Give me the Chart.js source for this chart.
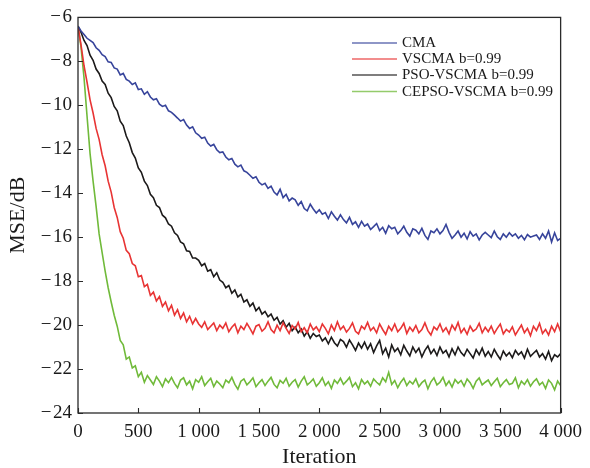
<!DOCTYPE html>
<html>
<head>
<meta charset="utf-8">
<script src="https://cdn.jsdelivr.net/npm/chart.js@4/dist/chart.umd.min.js"></script>
<style>
html,body{margin:0;padding:0;background:#fff;}
#wrap{width:590px;height:468px;position:relative;}
</style>
</head>
<body>
<div id="wrap"><canvas id="c" width="590" height="468"></canvas></div>
<script>
// Iteration grid (every 25 iterations, 0..4000)
const ITER_STEP = 25;
const ITER_MAX = 4000;
const iterations = Array.from({length: ITER_MAX / ITER_STEP + 1}, (_, i) => i * ITER_STEP);

const seriesNames = ["CMA", "VSCMA b=0.99", "PSO-VSCMA b=0.99", "CEPSO-VSCMA b=0.99"];
const xTicks = [0, 500, 1000, 1500, 2000, 2500, 3000, 3500, 4000];
const yTicks = [-24, -22, -20, -18, -16, -14, -12, -10, -8, -6];

// MSE/dB values, one per 25 iterations (8 per row = 200 iterations)
const cma = [
-6.40,-6.62,-6.78,-6.95,-7.05,-7.15,-7.38,-7.50,
-7.70,-7.78,-8.02,-8.05,-8.30,-8.35,-8.62,-8.55,
-8.82,-8.90,-9.05,-8.98,-9.28,-9.25,-9.50,-9.38,
-9.62,-9.75,-9.70,-9.95,-10.05,-10.00,-10.25,-10.32,
-10.45,-10.58,-10.72,-10.65,-10.90,-11.05,-10.98,-11.25,
-11.35,-11.50,-11.45,-11.72,-11.85,-11.78,-12.02,-12.15,
-12.12,-12.35,-12.48,-12.42,-12.68,-12.80,-12.72,-12.98,
-13.05,-13.18,-13.32,-13.25,-13.50,-13.62,-13.55,-13.78,
-13.68,-13.95,-14.08,-13.82,-14.20,-14.05,-14.35,-14.22,
-14.30,-14.55,-14.38,-14.70,-14.80,-14.50,-14.72,-14.90,
-14.75,-14.95,-14.88,-15.15,-14.85,-15.05,-15.22,-14.98,
-15.20,-15.35,-15.10,-15.42,-15.30,-15.55,-15.28,-15.50,
-15.40,-15.65,-15.52,-15.38,-15.70,-15.55,-15.82,-15.48,
-15.62,-15.55,-15.85,-15.70,-15.50,-15.78,-15.95,-15.62,
-15.68,-15.85,-15.60,-15.92,-16.10,-15.72,-15.80,-15.62,
-15.85,-15.70,-15.42,-15.78,-16.05,-15.90,-15.72,-16.00,
-15.82,-16.08,-15.75,-15.95,-15.85,-16.12,-15.90,-15.78,
-15.90,-16.02,-15.72,-15.98,-16.10,-15.85,-16.00,-15.80,
-15.95,-15.85,-16.05,-15.92,-16.12,-15.88,-16.00,-15.95,
-15.90,-16.10,-15.85,-16.05,-15.72,-16.22,-15.80,-16.15,
-16.05
];
const vscma = [
-6.40,-7.25,-8.20,-8.95,-9.75,-10.35,-11.05,-11.55,
-12.25,-12.75,-13.45,-13.95,-14.65,-15.10,-15.75,-16.05,
-16.60,-16.75,-17.20,-17.30,-17.80,-17.75,-18.25,-18.15,
-18.65,-18.50,-18.90,-18.70,-19.15,-18.95,-19.35,-19.10,
-19.55,-19.30,-19.70,-19.45,-19.85,-19.60,-19.95,-19.70,
-19.95,-20.10,-19.85,-20.20,-20.05,-19.90,-20.25,-20.00,
-20.15,-19.90,-20.30,-20.10,-19.95,-20.35,-20.05,-20.20,
-19.92,-20.15,-20.40,-20.05,-19.98,-20.28,-20.15,-19.85,
-20.20,-20.35,-20.00,-20.25,-19.90,-20.15,-20.38,-20.02,
-20.18,-19.88,-20.30,-20.12,-20.35,-19.95,-20.22,-20.08,
-20.30,-19.95,-20.15,-20.40,-20.00,-20.25,-19.85,-20.20,
-20.05,-20.32,-20.15,-19.90,-20.28,-20.40,-20.05,-20.18,
-19.88,-20.25,-20.10,-20.35,-19.95,-20.20,-20.42,-20.05,
-20.25,-19.95,-20.30,-20.15,-19.92,-20.38,-20.10,-20.28,
-20.02,-20.35,-20.20,-19.90,-20.25,-20.45,-20.08,-20.22,
-19.95,-20.30,-20.12,-20.40,-20.00,-20.22,-19.88,-20.35,
-20.15,-20.42,-20.05,-20.28,-20.18,-19.92,-20.35,-20.10,
-20.30,-20.05,-20.38,-20.15,-19.95,-20.40,-20.20,-20.32,
-20.08,-20.45,-20.22,-20.00,-20.35,-20.15,-20.48,-20.05,
-20.25,-19.92,-20.38,-20.20,-20.45,-20.05,-20.30,-19.95,
-20.30
];
const psoVscma = [
-6.40,-6.68,-7.05,-7.28,-7.72,-7.95,-8.35,-8.55,
-8.90,-9.05,-9.45,-9.65,-10.05,-10.25,-10.72,-10.92,
-11.40,-11.70,-12.15,-12.40,-12.85,-13.05,-13.45,-13.65,
-14.05,-14.20,-14.55,-14.65,-15.00,-15.12,-15.40,-15.50,
-15.80,-15.92,-16.22,-16.30,-16.62,-16.65,-16.95,-16.95,
-17.05,-17.30,-17.20,-17.55,-17.48,-17.80,-17.62,-17.95,
-18.05,-18.30,-18.20,-18.55,-18.40,-18.72,-18.60,-18.95,
-18.85,-19.15,-19.00,-19.35,-19.20,-19.50,-19.38,-19.62,
-19.50,-19.78,-19.65,-19.95,-19.80,-20.10,-19.92,-20.25,
-20.08,-20.35,-20.18,-20.50,-20.30,-20.60,-20.38,-20.52,
-20.45,-20.72,-20.58,-20.85,-20.55,-20.80,-20.95,-20.65,
-20.75,-21.00,-20.68,-20.90,-21.15,-20.82,-21.05,-20.78,
-21.10,-20.85,-21.25,-20.95,-20.70,-21.30,-21.05,-21.45,
-20.90,-21.20,-21.05,-21.35,-20.92,-21.18,-21.40,-21.00,
-21.25,-21.05,-21.45,-21.15,-20.95,-21.30,-21.10,-21.38,
-21.00,-21.28,-21.15,-21.45,-21.08,-21.35,-21.00,-21.25,
-21.40,-21.10,-21.30,-21.50,-21.12,-21.35,-21.05,-21.42,
-21.20,-21.45,-21.10,-21.35,-21.55,-21.18,-21.40,-21.25,
-21.48,-21.15,-21.35,-21.22,-21.50,-21.10,-21.42,-21.28,
-21.15,-21.45,-21.30,-21.55,-21.20,-21.62,-21.35,-21.45,
-21.30
];
const cepsoVscma = [
-6.40,-7.35,-8.75,-10.50,-12.20,-13.45,-14.60,-15.85,
-16.70,-17.55,-18.30,-18.95,-19.55,-20.05,-20.70,-20.90,
-21.55,-21.45,-21.95,-21.85,-22.35,-22.15,-22.60,-22.30,
-22.50,-22.70,-22.35,-22.55,-22.80,-22.45,-22.62,-22.38,
-22.65,-22.85,-22.50,-22.40,-22.72,-22.55,-22.90,-22.48,
-22.60,-22.35,-22.75,-22.58,-22.42,-22.80,-22.55,-22.68,
-22.85,-22.50,-22.62,-22.38,-22.70,-22.92,-22.55,-22.45,
-22.72,-22.58,-22.40,-22.80,-22.62,-22.48,-22.75,-22.55,
-22.38,-22.70,-22.85,-22.52,-22.65,-22.42,-22.78,-22.60,
-22.48,-22.82,-22.55,-22.35,-22.72,-22.60,-22.45,-22.78,
-22.62,-22.40,-22.75,-22.58,-22.88,-22.50,-22.65,-22.42,
-22.70,-22.55,-22.38,-22.80,-22.62,-22.90,-22.48,-22.68,
-22.55,-22.78,-22.45,-22.60,-22.72,-22.40,-22.58,-22.15,
-22.70,-22.52,-22.85,-22.60,-22.42,-22.75,-22.55,-22.68,
-22.45,-22.80,-22.62,-22.50,-22.90,-22.58,-22.40,-22.72,
-22.60,-22.38,-22.75,-22.55,-22.82,-22.48,-22.65,-22.52,
-22.78,-22.45,-22.62,-22.88,-22.55,-22.40,-22.72,-22.60,
-22.50,-22.75,-22.58,-22.42,-22.80,-22.62,-22.48,-22.70,
-22.65,-22.40,-22.85,-22.55,-22.70,-22.48,-22.78,-22.58,
-22.45,-22.72,-22.60,-22.88,-22.50,-22.65,-22.95,-22.55,
-22.75
];

const seriesValues = [cma, vscma, psoVscma, cepsoVscma];
const seriesColors = ["rgb(55,68,155)", "rgb(232,52,52)", "rgb(28,26,26)", "rgb(112,186,58)"];

const SERIF = '"Liberation Serif", "Times New Roman", serif';

function toPoints(vals){ return vals.map((v, i) => ({x: iterations[i], y: v})); }
function fmtThousands(v){
  const s = String(Math.abs(v));
  const t = s.length > 3 ? s.slice(0, s.length - 3) + ' ' + s.slice(s.length - 3) : s;
  return (v < 0 ? '\u2212\u200A' : '') + t;
}

const frameAndTicks = {
  id: 'frameAndTicks',
  afterDraw(chart){
    const {ctx, chartArea: a, scales} = chart;
    ctx.save();
    ctx.strokeStyle = '#2a2a2a';
    ctx.lineWidth = 1.3;
    ctx.strokeRect(a.left, a.top, a.right - a.left, a.bottom - a.top);
    ctx.lineWidth = 1.1;
    ctx.beginPath();
    xTicks.forEach(v => {
      const px = Math.round(scales.x.getPixelForValue(v)) + 0.5;
      ctx.moveTo(px, a.bottom); ctx.lineTo(px, a.bottom - 5);
    });
    yTicks.forEach(v => {
      const py = Math.round(scales.y.getPixelForValue(v)) + 0.5;
      ctx.moveTo(a.left, py); ctx.lineTo(a.left + 5, py);
    });
    ctx.stroke();
    // legend
    const lx0 = 352, lx1 = 397, tx = 402, rows = [43, 59, 75, 91.5];
    ctx.font = '15px ' + SERIF;
    ctx.textBaseline = 'middle';
    ctx.textAlign = 'left';
    seriesNames.forEach((n, i) => {
      ctx.strokeStyle = seriesColors[i];
      ctx.globalAlpha = 0.75;
      ctx.lineWidth = 1.5;
      ctx.beginPath(); ctx.moveTo(lx0, rows[i]); ctx.lineTo(lx1, rows[i]); ctx.stroke();
      ctx.globalAlpha = 1;
      ctx.fillStyle = '#1a1a1a';
      ctx.fillText(n, tx, rows[i] + 0.5);
    });
    ctx.restore();
  }
};

new Chart(document.getElementById('c'), {
  type: 'line',
  data: {
    datasets: seriesNames.map((n, i) => ({
      label: n,
      data: toPoints(seriesValues[i]),
      borderColor: seriesColors[i],
      borderWidth: 1.6,
      pointRadius: 0,
      tension: 0,
      fill: false
    }))
  },
  options: {
    responsive: false,
    animation: false,
    devicePixelRatio: 1,
    layout: {padding: {top: 13, right: 27, left: 0, bottom: 0}},
    plugins: {legend: {display: false}, tooltip: {enabled: false}},
    scales: {
      x: {
        type: 'linear', min: 0, max: 4000,
        afterBuildTicks(s){ s.ticks = xTicks.map(v => ({value: v})); },
        afterFit(s){ s.height = 55; },
        grid: {display: false, drawTicks: false},
        border: {display: false},
        ticks: {padding: 8, maxRotation: 0, color: '#1a1a1a', font: {family: SERIF, size: 19},
                callback: v => fmtThousands(v)},
        title: {display: true, text: 'Iteration', color: '#1a1a1a', font: {family: SERIF, size: 22, lineHeight: 1}, padding: {top: 0, bottom: 0}}
      },
      y: {
        min: -24, max: -6,
        afterBuildTicks(s){ s.ticks = yTicks.map(v => ({value: v})); },
        afterFit(s){ s.width = 78; },
        grid: {display: false, drawTicks: false},
        border: {display: false},
        ticks: {padding: 6, color: '#1a1a1a', font: {family: SERIF, size: 19},
                callback: v => fmtThousands(v)},
        title: {display: true, text: 'MSE/dB', color: '#1a1a1a', font: {family: SERIF, size: 22, lineHeight: 1}, padding: {top: 7, bottom: 0}}
      }
    }
  },
  plugins: [frameAndTicks]
});
</script>
</body>
</html>
